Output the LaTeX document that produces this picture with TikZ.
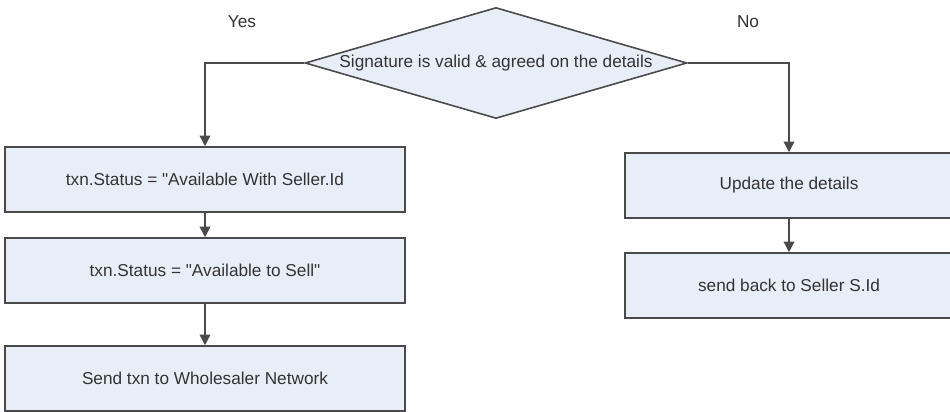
\documentclass[tikz,border=0pt]{standalone}
\usepackage{fontspec}
\setmainfont{Liberation Sans}
\usetikzlibrary{arrows.meta}
\usetikzlibrary{shapes.geometric}

\definecolor{boxfill}{HTML}{E8EEF8}
\definecolor{boxline}{HTML}{4A4A4A}
\definecolor{labeltext}{HTML}{333333}

\begin{document}
\begin{tikzpicture} [
    box/.style = {draw = boxline, fill = boxfill, line width = 0.9pt,
        minimum height = 1.3cm, inner sep = 0pt, text = labeltext,
        font = \fontsize{9.8}{12}\selectfont},
    choice/.style = {diamond, draw = boxline, fill = boxfill, line width = 0.9pt,
        aspect = 3.44, inner sep = 0pt, minimum width = 7.64cm,
        minimum height = 2.22cm, text = labeltext,
        font = \fontsize{9.8}{12}\selectfont},
    flow/.style = {draw = boxline, line width = 0.9pt,
        -{Triangle[length = 6pt, width = 6pt]}}
]

% page frame
\clip (0, 0) rectangle (19, -8.22);
\useasboundingbox (0, 0) rectangle (19, -8.22);

% decision and branch labels
\node (check) at (9.92, -1.26) [choice] {Signature is valid \& agreed on the details};
\node (yes) at (4.84, -0.44) [text = labeltext, font = \fontsize{9.8}{12}\selectfont] {Yes};
\node (no) at (14.96, -0.44) [text = labeltext, font = \fontsize{9.8}{12}\selectfont] {No};

% yes branch
\node (avail) at (4.1, -3.59) [box, minimum width = 8cm] {txn.Status = \textquotedbl Available With Seller.Id};
\node (sell) at (4.1, -5.41) [box, minimum width = 8cm] {txn.Status = \textquotedbl Available to Sell\textquotedbl};
\node (send) at (4.1, -7.57) [box, minimum width = 8cm] {Send txn to Wholesaler Network};

% no branch
\node (update) at (15.78, -3.71) [box, minimum width = 6.56cm] {Update the details};
\node (back) at (15.78, -5.71) [box, minimum width = 6.56cm] {send back to Seller S.Id};

% connectors
\draw [flow] (check.west) -| (avail.north);
\draw [flow] (avail) -- (sell);
\draw [flow] (sell) -- (send);
\draw [flow] (check.east) -| (update.north);
\draw [flow] (update) -- (back);

\end{tikzpicture}
\end{document}
